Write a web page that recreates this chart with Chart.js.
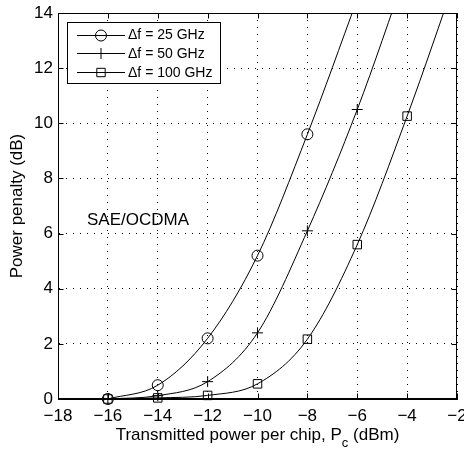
<!DOCTYPE html>
<html>
<head>
<meta charset="utf-8">
<script src="https://cdn.jsdelivr.net/npm/chart.js@4"></script>
<style>
  html, body { margin: 0; padding: 0; background: #fff; }
  #wrap { width: 464px; height: 449px; }
</style>
</head>
<body>
<div id="wrap"><canvas id="penalty"></canvas></div>
<script>
// transmitted power per chip (dBm), one marker every 2 dB
var powers = [-16, -14, -12, -10, -8, -6, -4, -2];
// power penalty (dB), values past 14 just carry the line off the top
var df25 = [0, 0.5, 2.2, 5.2, 9.6, 14.5, null, null];
var df50 = [0, 0.12, 0.63, 2.4, 6.1, 10.5, 15.6, null];
var df100 = [0, 0.04, 0.13, 0.55, 2.17, 5.6, 10.26, 15.4];
var seriesNames = ['\u0394f = 25 GHz', '\u0394f = 50 GHz', '\u0394f = 100 GHz'];
var markers = ['circle', 'cross', 'rect'];
var xTicks = [-18, -16, -14, -12, -10, -8, -6, -4, -2];
var yTicks = [0, 2, 4, 6, 8, 10, 12, 14];

var FONT = '"Liberation Sans", Arial, Helvetica, sans-serif';

function toPoints(vals) {
  var pts = [];
  for (var i = 0; i < powers.length; i++) {
    if (vals[i] !== null) pts.push({x: powers[i], y: vals[i]});
  }
  return pts;
}

function makeSet(idx, vals) {
  return {
    label: seriesNames[idx],
    data: toPoints(vals),
    borderColor: '#000',
    borderWidth: 1,
    backgroundColor: 'rgba(0,0,0,0)',
    pointStyle: markers[idx],
    pointRadius: function(c) {
      var v = c.raw;
      if (!v || v.y > 14) return 0;
      return markers[idx] == 'rect' ? 6 : 5.5;
    },
    pointBorderColor: '#000',
    pointBorderWidth: 1,
    pointBackgroundColor: 'rgba(0,0,0,0)',
    cubicInterpolationMode: 'monotone',
    clip: {left: 8, top: 0, right: 0, bottom: 8},  // let the markers on the x axis show whole
    fill: false
  };
}

// draw a marker by hand (legend only)
function marker(ctx, style, x, y) {
  ctx.beginPath();
  if (style == 'circle') {
    ctx.arc(x, y, 5.5, 0, Math.PI * 2);
  } else if (style == 'cross') {
    ctx.moveTo(x - 5.5, y); ctx.lineTo(x + 5.5, y);
    ctx.moveTo(x, y - 5.5); ctx.lineTo(x, y + 5.5);
  } else {
    ctx.rect(x - 4.2, y - 4.2, 8.4, 8.4);
  }
  ctx.stroke();
}

var extras = {
  id: 'extras',
  afterDraw: function(chart) {
    var ctx = chart.ctx;
    var a = chart.chartArea;
    var xs = chart.scales.x, ys = chart.scales.y;
    ctx.save();
    ctx.strokeStyle = '#000';
    ctx.lineWidth = 1;
    ctx.setLineDash([]);
    // frame
    var L = Math.round(a.left) + 0.5, R = Math.round(a.right) - 0.5;
    var T = Math.round(a.top) + 0.5, B = Math.round(a.bottom) - 0.5;
    ctx.strokeRect(L, T, R - L, B - T);
    // inward ticks on all sides
    ctx.beginPath();
    xTicks.forEach(function(v) {
      var px = Math.round(xs.getPixelForValue(v)) + 0.5;
      ctx.moveTo(px, B); ctx.lineTo(px, B - 5);
      ctx.moveTo(px, T); ctx.lineTo(px, T + 5);
    });
    yTicks.forEach(function(v) {
      var py = Math.round(ys.getPixelForValue(v)) + 0.5;
      ctx.moveTo(L, py); ctx.lineTo(L + 5, py);
      ctx.moveTo(R, py); ctx.lineTo(R - 5, py);
    });
    ctx.stroke();

    // legend box
    var bx = 67, by = 22, bw = 153, bh = 61;
    ctx.fillStyle = '#fff';
    ctx.fillRect(bx, by, bw, bh);
    ctx.strokeRect(bx + 0.5, by + 0.5, bw, bh);
    var rows = [34.5, 53, 72];
    ctx.font = '14px ' + FONT;
    ctx.textBaseline = 'middle';
    ctx.textAlign = 'left';
    for (var i = 0; i < 3; i++) {
      var ry = Math.round(rows[i]) + 0.5;
      ctx.beginPath();
      ctx.moveTo(77, ry); ctx.lineTo(125, ry);
      ctx.stroke();
      marker(ctx, markers[i], 101, ry);
      ctx.fillStyle = '#000';
      ctx.fillText(seriesNames[i], 128, rows[i] + 1);
    }

    // annotation
    ctx.font = '17px ' + FONT;
    ctx.textBaseline = 'alphabetic';
    ctx.fillText('SAE/OCDMA', 87, 225);

    // x title with subscript
    var t1 = 'Transmitted power per chip, P', t2 = 'c', t3 = ' (dBm)';
    var w1 = ctx.measureText(t1).width, w3 = ctx.measureText(t3).width;
    ctx.font = '13px ' + FONT;
    var w2 = ctx.measureText(t2).width;
    var x0 = (a.left + a.right) / 2 - (w1 + w2 + w3) / 2;
    ctx.font = '17px ' + FONT;
    ctx.fillText(t1, x0, 440);
    ctx.font = '13px ' + FONT;
    ctx.fillText(t2, x0 + w1, 447);
    ctx.font = '17px ' + FONT;
    ctx.fillText(t3, x0 + w1 + w2, 440);

    // y title
    ctx.translate(17, (a.top + a.bottom) / 2);
    ctx.rotate(-Math.PI / 2);
    ctx.textAlign = 'center';
    ctx.textBaseline = 'middle';
    ctx.fillText('Power penalty (dB)', 0, 0);
    ctx.restore();
  }
};

var ctx = document.getElementById('penalty').getContext('2d');
var chart = new Chart(ctx, {
  type: 'line',
  data: {
    datasets: [makeSet(0, df25), makeSet(1, df50), makeSet(2, df100)]
  },
  options: {
    responsive: true,
    maintainAspectRatio: false,
    animation: false,
    layout: { padding: { left: 0, right: 3, top: 13, bottom: 0 } },
    plugins: { legend: { display: false }, tooltip: { enabled: false } },
    scales: {
      x: {
        type: 'linear',
        min: -18, max: -2,
        afterBuildTicks: function(s) { s.ticks = xTicks.map(function(v) { return {value: v}; }); },
        afterFit: function(s) { s.height = 50; s.paddingLeft = 0; s.paddingRight = 0; },
        ticks: {
          color: '#000',
          padding: 7,
          maxRotation: 0,
          autoSkip: false,
          font: { family: FONT, size: 17 },
          callback: function(v) { return String(v).replace('-', '\u2212'); }
        },
        grid: { color: '#000', lineWidth: 1, drawTicks: false },
        border: { display: true, color: '#000', width: 1, dash: [1, 6] }
      },
      y: {
        min: 0, max: 14,
        afterBuildTicks: function(s) { s.ticks = yTicks.map(function(v) { return {value: v}; }); },
        afterFit: function(s) { s.width = 58; s.paddingTop = 0; s.paddingBottom = 0; },
        ticks: {
          color: '#000',
          padding: 5,
          autoSkip: false,
          font: { family: FONT, size: 17 }
        },
        grid: { color: '#000', lineWidth: 1, drawTicks: false },
        border: { display: true, color: '#000', width: 1, dash: [1, 6] }
      }
    }
  },
  plugins: [extras]
});
</script>
</body>
</html>
